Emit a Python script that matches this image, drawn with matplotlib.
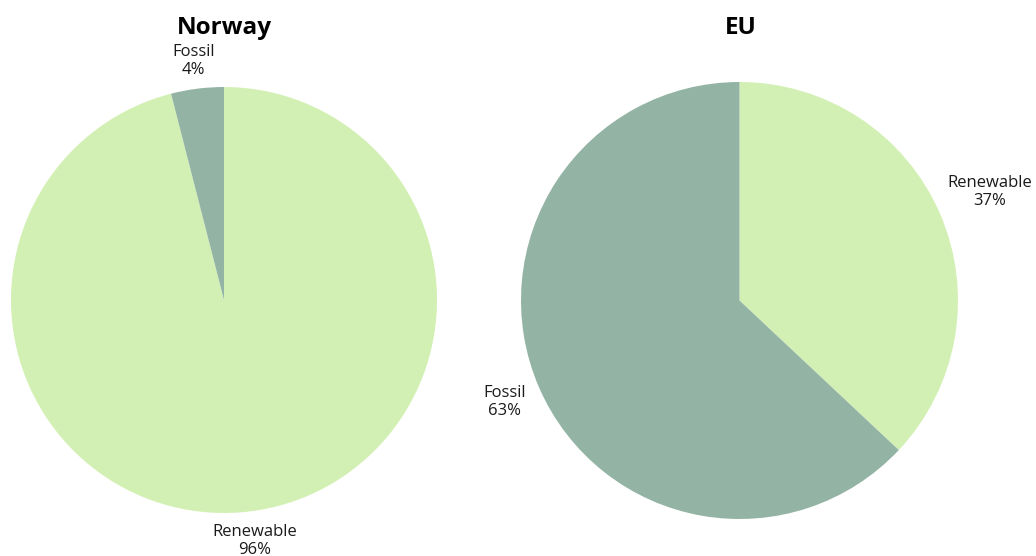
import numpy as np
import matplotlib
matplotlib.use("Agg")
import matplotlib.pyplot as plt

plt.rcParams["font.family"] = ["Open Sans", "DejaVu Sans"]

SOURCES = ["Renewable", "Fossil"]
NORWAY_SHARE = [96, 4]
EU_SHARE = [37, 63]
COLORS = ["#d3f0b4", "#93b4a5"]

W, H = 1036, 556


def draw_pie(rect, title, shares, label_dist):
    ax = fig.add_axes(rect)
    wedges, texts = ax.pie(
        shares,
        colors=COLORS,
        startangle=90,
        counterclock=False,
        radius=1.0,
        labels=[f"{s}\n{v}%" for s, v in zip(SOURCES, shares)],
        textprops=dict(ha="center", va="center", fontsize=12, color="#1a1a1a",
                       linespacing=1.2),
    )
    # move each label along the middle of its wedge
    for w, t, d in zip(wedges, texts, label_dist):
        mid = np.deg2rad((w.theta1 + w.theta2) / 2)
        t.set_position((d * np.cos(mid), d * np.sin(mid)))
    ax.set_xlim(-1, 1)
    ax.set_ylim(-1, 1)
    ax.set_aspect("equal")
    ax.axis("off")
    return ax


fig = plt.figure(figsize=(W / 100, H / 100), dpi=100)

draw_pie([11 / W, 43 / H, 426 / W, 426 / H], "Norway", NORWAY_SHARE, [1.14, 1.13])
draw_pie([521 / W, 37 / H, 437 / W, 437 / H], "EU", EU_SHARE, [1.25, 1.17])

fig.text(224 / W, 1 - 28 / H, "Norway", ha="center", va="center",
         fontsize=17.5, fontweight="bold")
fig.text(741 / W, 1 - 28 / H, "EU", ha="center", va="center",
         fontsize=17.5, fontweight="bold")

fig.savefig("out.png", dpi=100, facecolor="white")
